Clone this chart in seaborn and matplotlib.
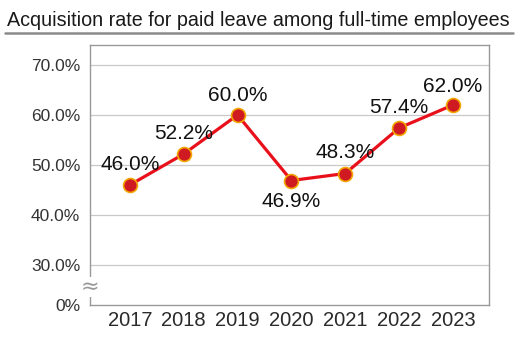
import matplotlib
matplotlib.use("Agg")
import matplotlib.pyplot as plt
import seaborn as sns
import pandas as pd

# Paid-leave acquisition rate (%) by year
years = [2017, 2018, 2019, 2020, 2021, 2022, 2023]
rates = [46.0, 52.2, 60.0, 46.9, 48.3, 57.4, 62.0]
y_ticks = [30, 40, 50, 60, 70]
y_tick_labels = ["30.0%", "40.0%", "50.0%", "60.0%", "70.0%"]
title = "Acquisition rate for paid leave among full-time employees"

df = pd.DataFrame({"year": years, "rate": rates})

sns.set_style("white")
plt.rcParams["font.family"] = ["Liberation Sans", "DejaVu Sans"]

fig = plt.figure(figsize=(5.2, 3.4), dpi=100)
ax = fig.add_axes([90 / 520, 35 / 340, 399 / 520, 260 / 340])

sns.lineplot(data=df, x="year", y="rate", ax=ax, color="#e8101a", linewidth=2.3,
             marker="o", markersize=10, markerfacecolor="#d01a22",
             markeredgecolor="#f2a600", markeredgewidth=1.2, zorder=3)

# value labels: most sit above the point, the 2020 dip sits below
label_dy = [15, 15, 14, -15, 15, 15, 13.5]
for x, v, dy in zip(years, rates, label_dy):
    ax.annotate(f"{v:.1f}%", (x, v), xytext=(0, dy), textcoords="offset points",
                ha="center", va="center", fontsize=15, color="#111111")

ax.set_xlim(2016.26, 2023.67)
ax.set_ylim(22, 74)
ax.set_xticks(years)
ax.set_xticklabels([str(y) for y in years], fontsize=14.5, color="#2a2a2a")
ax.set_yticks([22] + y_ticks)
ax.set_yticklabels(["0%"] + y_tick_labels, fontsize=12.5, color="#333333")
ax.tick_params(axis="both", length=0)
ax.tick_params(axis="y", pad=7)
ax.tick_params(axis="x", pad=4)
ax.set_xlabel("")
ax.set_ylabel("")

for yv in y_ticks:
    ax.axhline(yv, color="#c8c8c8", linewidth=0.9, zorder=1)

for s in ax.spines.values():
    s.set_visible(True)
    s.set_color("#999999")
    s.set_linewidth(1.0)

# axis break mark between 0% and 30%
ax.text(0, 25.6, "≈", transform=ax.get_yaxis_transform(), ha="center", va="center",
        fontsize=16, color="#999999", family="DejaVu Sans",
        bbox=dict(boxstyle="square,pad=0.02", fc="white", ec="none"), clip_on=False)

# title sized to run the full width of the underline
t = fig.text(7 / 520, 1 - 20 / 340, title, ha="left", va="center",
             fontsize=14, color="#1a1a1a")
renderer = fig.canvas.get_renderer()
w = t.get_window_extent(renderer).width
t.set_fontsize(14 * 504 / w)
fig.add_artist(plt.Line2D([5 / 520, 513 / 520], [1 - 32.5 / 340, 1 - 32.5 / 340],
                          color="#8a8a8a", linewidth=1.8))

fig.savefig("out.png", dpi=100)
